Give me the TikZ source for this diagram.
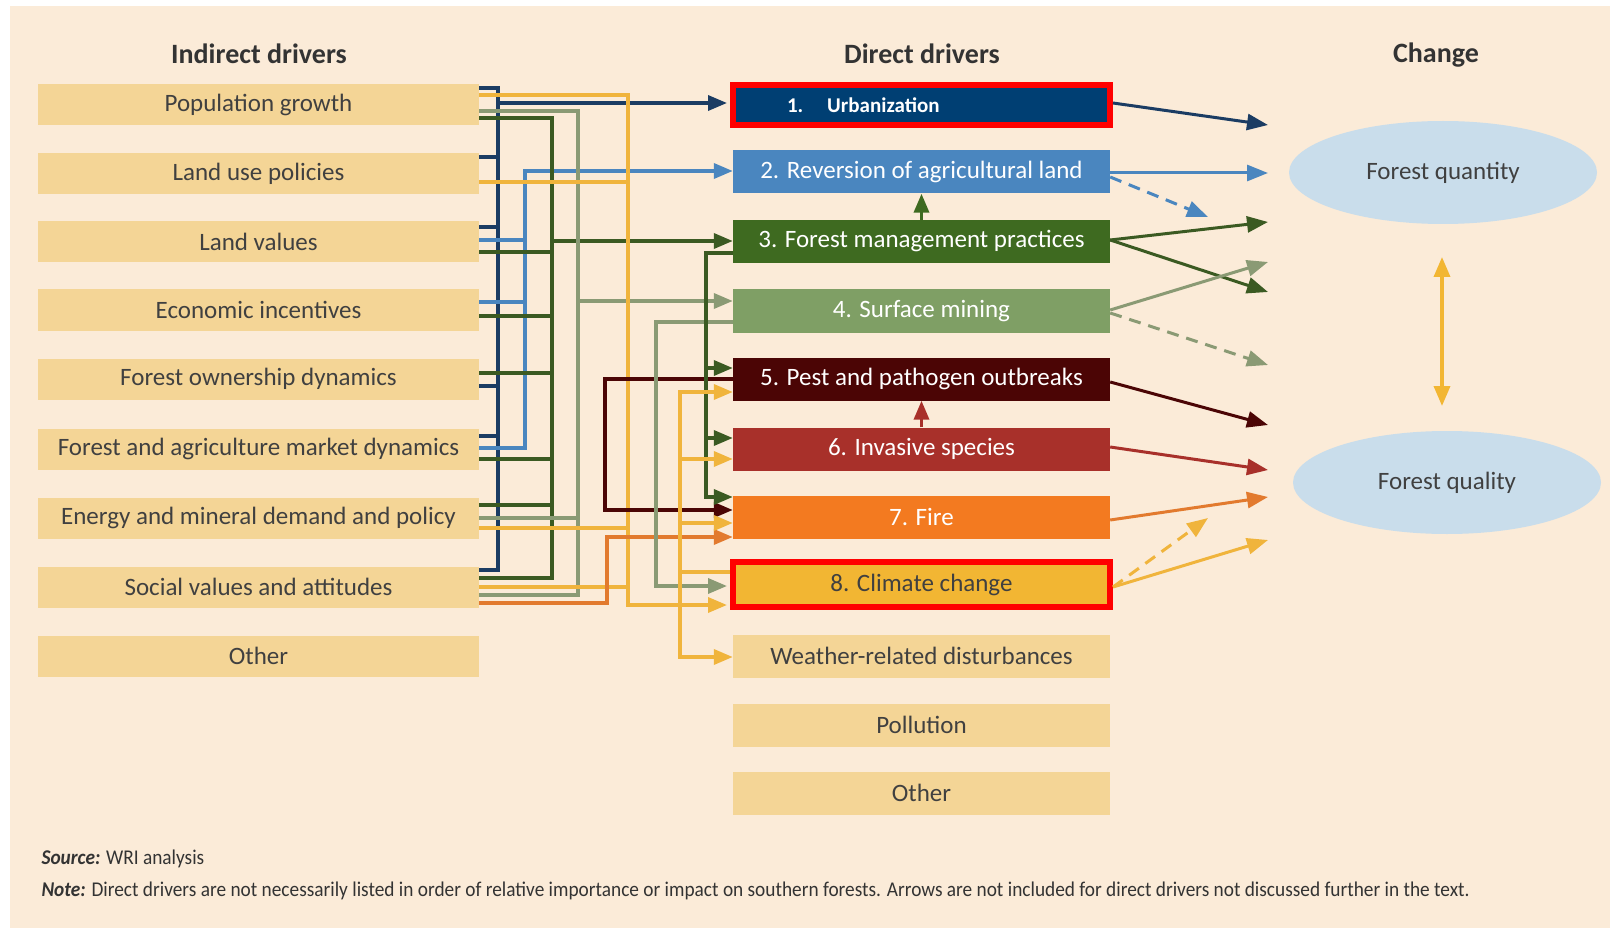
\documentclass[tikz,border=0pt]{standalone}
\usepackage{fontspec}
\setmainfont{Carlito}
\newfontfamily\notefont[FakeStretch=0.92]{Carlito}
\usetikzlibrary{arrows.meta,shapes.geometric}

% palette
\definecolor{paper}{HTML}{FBEBD8}
\definecolor{beige}{HTML}{F4D596}
\definecolor{txt}{HTML}{404040}
\definecolor{head}{HTML}{333333}
\definecolor{navy}{HTML}{003F73}
\definecolor{navyln}{HTML}{1B3C63}
\definecolor{steel}{HTML}{4A86BF}
\definecolor{forest}{HTML}{3E6A20}
\definecolor{forestln}{HTML}{3B5A22}
\definecolor{sage}{HTML}{7F9F65}
\definecolor{sageln}{HTML}{8A9A74}
\definecolor{maroon}{HTML}{4B0505}
\definecolor{rust}{HTML}{A8302A}
\definecolor{ember}{HTML}{F37A20}
\definecolor{emberln}{HTML}{E27A2E}
\definecolor{sun}{HTML}{F2B633}
\definecolor{sunln}{HTML}{F0B43C}
\definecolor{sky}{HTML}{C9DDEB}
\definecolor{flag}{HTML}{FF0000}

\begin{document}
\begin{tikzpicture}[x=1pt,y=-1pt,
  indbox/.style={fill=beige,minimum width=441pt,minimum height=41pt,inner sep=0pt,
    text=txt,font=\fontsize{25}{30}\selectfont},
  dirbox/.style={fill=#1,minimum width=377pt,minimum height=43pt,inner sep=0pt,
    text=white,font=\fontsize{25}{30}\selectfont},
  flagged/.style={draw=flag,line width=6pt},
  heading/.style={text=head,font=\bfseries\fontsize{28}{34}\selectfont},
  outcome/.style={ellipse,fill=sky,minimum width=308pt,minimum height=103pt,
    inner sep=0pt,text=txt,font=\fontsize{25}{30}\selectfont},
  wire/.style={draw=#1,line width=3.5pt},
  feed/.style={draw=#1,line width=3.5pt,-{Triangle[length=19pt,width=15pt]}},
  effect/.style={draw=#1,line width=3pt,-{Triangle[length=21pt,width=16pt]}},
  effectdash/.style={effect=#1,dash pattern=on 12pt off 8pt},
]
\useasboundingbox (0,0) rectangle (1610,928);
\fill[paper] (10,6) rectangle (1610,928);

% column headings
\node[heading] (h1) at (259,54) {Indirect drivers};
\node[heading] (h2) at (922,54) {Direct drivers};
\node[heading] (h3) at (1436,55) {Change};

% indirect drivers
\node[indbox] (ind1) at (258.5,105) {Population growth};
\node[indbox] (ind2) at (258.5,174) {Land use policies};
\node[indbox] (ind3) at (258.5,242) {Land values};
\node[indbox] (ind4) at (258.5,310) {Economic incentives};
\node[indbox] (ind5) at (258.5,379) {Forest ownership dynamics};
\node[indbox] (ind6) at (258.5,449) {Forest and agriculture market dynamics};
\node[indbox] (ind7) at (258.5,518) {Energy and mineral demand and policy};
\node[indbox] (ind8) at (258.5,587) {Social values and attitudes};
\node[indbox] (ind9) at (258.5,656) {Other};

% direct drivers
\node[dirbox=navy,flagged,minimum height=40pt,text width=269pt,align=left,
  font=\bfseries\fontsize{21}{25}\selectfont] (d1) at (921.5,105) {1.\hspace{24pt}Urbanization};
\node[dirbox=steel] (d2) at (921.5,172) {2. Reversion of agricultural land};
\node[dirbox=forest] (d3) at (921.5,241.5) {3. Forest management practices};
\node[dirbox=sage] (d4) at (921.5,311) {4. Surface mining};
\node[dirbox=maroon] (d5) at (921.5,379) {5. Pest and pathogen outbreaks};
\node[dirbox=rust] (d6) at (921.5,449) {6. Invasive species};
\node[dirbox=ember] (d7) at (921.5,517) {7. Fire};
\node[dirbox=sun,flagged,minimum height=45pt,text=txt] (d8) at (921.5,584.5) {8. Climate change};
\node[dirbox=beige,text=txt] (dw) at (921.5,656) {Weather-related disturbances};
\node[dirbox=beige,text=txt] (dp) at (921.5,725) {Pollution};
\node[dirbox=beige,text=txt] (do) at (921.5,793) {Other};

% forest change
\node[outcome] (q1) at (1443,172.5) {Forest quantity};
\node[outcome] (q2) at (1447,482.5) {Forest quality};

% ---- indirect -> direct wiring ----
% navy bus
\draw[wire=navyln] (ind1.east |- 0,88) -- (498,88) -- (498,570) -- (ind8.east |- 0,570);
\foreach \n/\y in {2/157,3/227,5/386,6/436}
  \draw[wire=navyln] (ind\n.east |- 0,\y) -- (498,\y);
\draw[feed=navyln,shorten >=3pt] (498,103) -- (d1.west |- 0,103);
% blue bus
\draw[feed=steel] (ind6.east |- 0,448) -| (525,171) -- (d2.west |- 0,171);
\foreach \n/\y in {3/240,4/302}
  \draw[wire=steel] (ind\n.east |- 0,\y) -- (525,\y);
% dark green bus
\draw[wire=forestln] (ind1.east |- 0,118) -| (552,578) -- (ind8.east |- 0,578);
\foreach \n/\y in {3/252,4/316,5/373,6/459,7/505}
  \draw[wire=forestln] (ind\n.east |- 0,\y) -- (552,\y);
\draw[feed=forestln] (552,241) -- (d3.west |- 0,241);
% sage bus
\draw[wire=sageln] (ind1.east |- 0,111) -| (578,595) -- (ind8.east |- 0,595);
\draw[wire=sageln] (ind7.east |- 0,518) -- (578,518);
\draw[feed=sageln] (578,301) -- (d4.west |- 0,301);
% yellow bus
\draw[feed=sunln,shorten >=3pt] (ind1.east |- 0,95) -| (628,605) -- (d8.west |- 0,605);
\foreach \n/\y in {2/182,7/528,8/587}
  \draw[wire=sunln] (ind\n.east |- 0,\y) -- (628,\y);
% social values -> fire
\draw[feed=emberln] (ind8.east |- 0,603) -| (607,537) -- (d7.west |- 0,537);

% ---- direct -> direct ----
\draw[feed=maroon] (d5.west |- 0,379) -| (605,510) -- (d7.west |- 0,510);
\draw[feed=sageln,shorten >=3pt] (d4.west |- 0,322) -| (656,586) -- (d8.west |- 0,586);
\draw[feed=forestln] (d3.west |- 0,253) -| (706,497) -- (d7.west |- 0,497);
\draw[feed=forestln] (706,368) -- (d5.west |- 0,368);
\draw[feed=forestln] (706,438) -- (d6.west |- 0,438);
\draw[wire=sunln] (d8.west |- 0,572) -- (680,572);
\draw[feed=sunln] (680,572) |- (d5.west |- 0,392);
\draw[feed=sunln] (680,572) |- (dw.west |- 0,657);
\draw[feed=sunln] (680,459) -- (d6.west |- 0,459);
\draw[feed=sunln] (680,523) -- (d7.west |- 0,523);
\draw[feed=forest] (d3.north) -- (d2.south);
\draw[feed=rust] (d6.north) -- (d5.south);

% ---- direct -> change ----
\coordinate (r1) at (1268,125);
\coordinate (r2) at (1268,173);
\coordinate (r2d) at (1208,217);
\coordinate (r3a) at (1268,222);
\coordinate (r3b) at (1268,292);
\coordinate (r4a) at (1268,262);
\coordinate (r4d) at (1268,365);
\coordinate (r5) at (1268,425);
\coordinate (r6) at (1268,470);
\coordinate (r7) at (1268,497);
\coordinate (r8d) at (1208,518);
\coordinate (r8) at (1268,540);
\draw[effect=navyln] (d1.east |- 0,103) -- (r1);
\draw[effect=steel] (d2.east |- 0,173) -- (r2);
\draw[effectdash=steel] (d2.east |- 0,177) -- (r2d);
\draw[effect=forestln] (d3.east |- 0,240) -- (r3a);
\draw[effect=forestln] (d3.east |- 0,240) -- (r3b);
\draw[effect=sageln] (d4.east |- 0,310) -- (r4a);
\draw[effectdash=sageln] (d4.east |- 0,313) -- (r4d);
\draw[effect=maroon] (d5.east |- 0,382) -- (r5);
\draw[effect=rust] (d6.east |- 0,447) -- (r6);
\draw[effect=emberln] (d7.east |- 0,520) -- (r7);
\draw[effectdash=sunln] (d8.east |- 0,587) -- (r8d);
\draw[effect=sunln] (d8.east |- 0,587) -- (r8);

% quantity <-> quality
\coordinate (qa) at (1442,257);
\coordinate (qb) at (1442,406);
\draw[draw=sun,line width=3.5pt,{Triangle[length=20pt,width=16pt]}-{Triangle[length=20pt,width=16pt]}] (qa) -- (qb);

% footnotes
\node[anchor=west,text=head,font=\notefont\fontsize{21}{25}\selectfont] (src) at (38,859)
  {\textbf{\textit{Source:}} WRI analysis};
\node[anchor=west,text=head,font=\notefont\fontsize{21}{25}\selectfont] (note) at (38,891)
  {\textbf{\textit{Note:}} Direct drivers are not necessarily listed in order of relative importance or impact on southern forests. Arrows are not included for direct drivers not discussed further in the text.};
\end{tikzpicture}
\end{document}
